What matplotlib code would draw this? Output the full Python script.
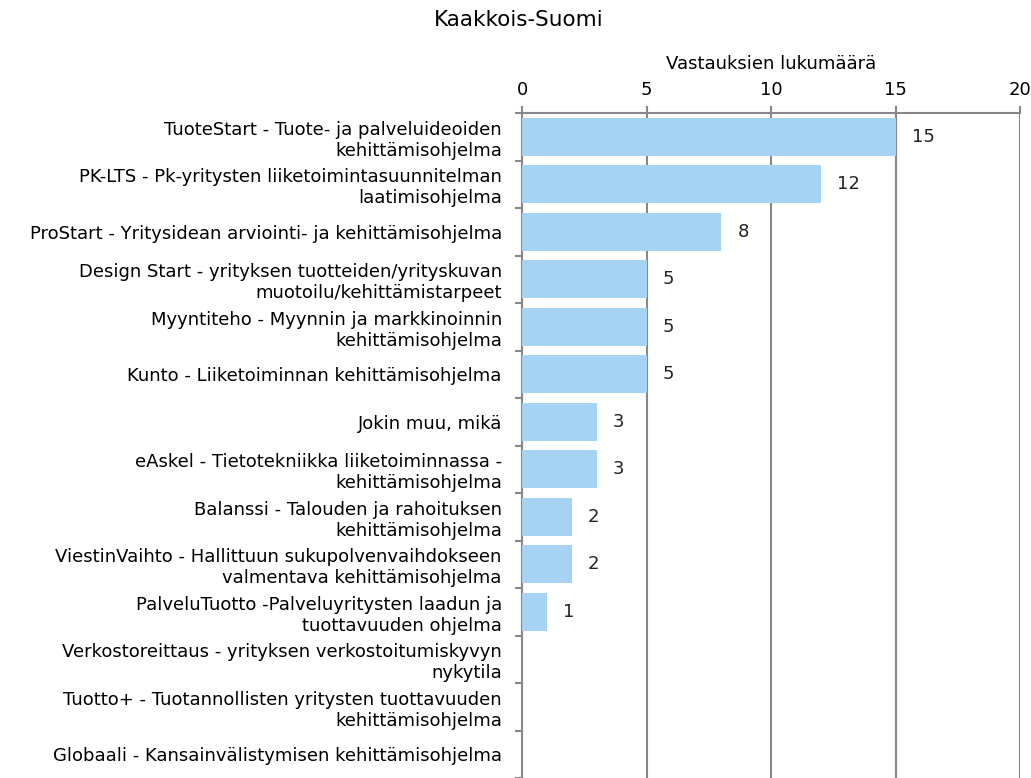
import numpy as np
import matplotlib.pyplot as plt

# Vastaukset ohjelmittain
ohjelmat = [
    "TuoteStart - Tuote- ja palveluideoiden\nkehittämisohjelma",
    "PK-LTS - Pk-yritysten liiketoimintasuunnitelman\nlaatimisohjelma",
    "ProStart - Yritysidean arviointi- ja kehittämisohjelma",
    "Design Start - yrityksen tuotteiden/yrityskuvan\nmuotoilu/kehittämistarpeet",
    "Myyntiteho - Myynnin ja markkinoinnin\nkehittämisohjelma",
    "Kunto - Liiketoiminnan kehittämisohjelma",
    "Jokin muu, mikä",
    "eAskel - Tietotekniikka liiketoiminnassa -\nkehittämisohjelma",
    "Balanssi - Talouden ja rahoituksen\nkehittämisohjelma",
    "ViestinVaihto - Hallittuun sukupolvenvaihdokseen\nvalmentava kehittämisohjelma",
    "PalveluTuotto -Palveluyritysten laadun ja\ntuottavuuden ohjelma",
    "Verkostoreittaus - yrityksen verkostoitumiskyvyn\nnykytila",
    "Tuotto+ - Tuotannollisten yritysten tuottavuuden\nkehittämisohjelma",
    "Globaali - Kansainvälistymisen kehittämisohjelma",
]
vastaukset = [15, 12, 8, 5, 5, 5, 3, 3, 2, 2, 1, 0, 0, 0]

fig = plt.figure(figsize=(10.31, 7.78), dpi=100)
ax = fig.add_axes([522 / 1031, 0.0, (1020 - 522) / 1031, 1 - 113 / 778])

y = np.arange(len(ohjelmat))
ax.barh(y, vastaukset, height=0.8, color="#A6D3F2", zorder=3)
for yi, v in zip(y, vastaukset):
    if v > 0:
        ax.text(v + 0.65, yi, str(v), va="center", ha="left", fontsize=13, color="#222222")

ax.set_xlim(0, 20)
ax.set_ylim(len(ohjelmat) - 0.5, -0.5)
ax.set_xticks([0, 5, 10, 15, 20])
ax.xaxis.tick_top()
ax.xaxis.set_label_position("top")
ax.set_xlabel("Vastauksien lukumäärä", fontsize=13, labelpad=9)
ax.tick_params(axis="x", length=5, width=1.5, color="#888888", labelsize=13, pad=5)
ax.grid(axis="x", color="#888888", linewidth=1.5, zorder=0)

# kategoriat rajojen väliin, tikit rajoille
ax.set_yticks(np.arange(len(ohjelmat) + 1) - 0.5)
ax.set_yticklabels([])
ax.set_yticks(y, minor=True)
ax.set_yticklabels(ohjelmat, minor=True, fontsize=13)
ax.tick_params(axis="y", which="major", length=5, width=1.5, color="#888888")
ax.tick_params(axis="y", which="minor", length=0, pad=14.5)

for s in ["right", "bottom"]:
    ax.spines[s].set_visible(False)
for s in ["left", "top"]:
    ax.spines[s].set_color("#888888")
    ax.spines[s].set_linewidth(1.5)

fig.text(0.503, 1 - 20 / 778, "Kaakkois-Suomi", ha="center", va="center", fontsize=15.5)

fig.savefig("out.png", dpi=100)
